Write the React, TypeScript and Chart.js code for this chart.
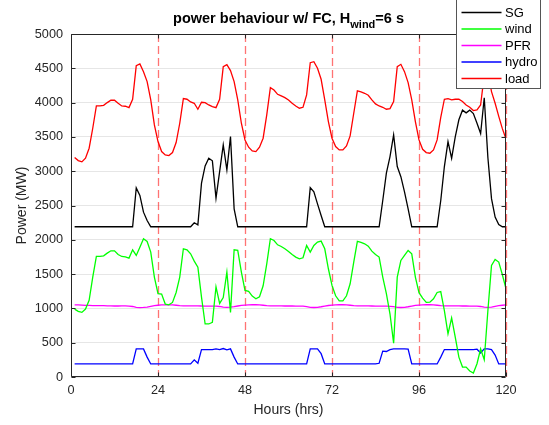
import React, { useEffect, useRef } from "react";
import { Chart, registerables } from "chart.js";

Chart.register(...registerables);

const HOURS: number[] = Array.from({ length: 120 }, (_, i) => i + 1);
const X_TICKS = [0, 24, 48, 72, 96, 120];
const DAY_MARKS = [24, 48, 72, 96, 120];

const SG = [
  2190, 2190, 2190, 2190, 2190, 2190, 2190, 2190, 2190, 2190, 2190, 2190, 2190, 2190, 2190, 2190, 2190,
  2757, 2646, 2403, 2282,
  2190, 2190, 2190, 2190, 2190, 2190, 2190, 2190, 2190, 2190, 2190, 2190,
  2248, 2218, 2825, 3078, 3189, 3151, 2607, 2995, 3384, 3020, 3505, 2451,
  2190, 2190, 2190, 2190, 2190, 2190, 2190, 2190, 2190, 2190, 2190, 2190, 2190, 2190, 2190, 2190, 2190, 2190, 2190, 2190,
  2760, 2700, 2524, 2354,
  2190, 2190, 2190, 2190, 2190, 2190, 2190, 2190, 2190, 2190, 2190, 2190, 2190, 2190, 2190, 2190,
  2573, 2971, 3214, 3529, 3068, 2920, 2700, 2450,
  2190, 2190, 2190, 2190, 2190, 2190, 2190, 2190,
  2573, 3068, 3432, 3189, 3500, 3750, 3890, 3850, 3890, 3840, 3700, 3550, 4070, 3200, 2600, 2330, 2223, 2190, 2190,
];

const WIND = [
  990, 957, 942, 990, 1117, 1456, 1757, 1757, 1767, 1806, 1840, 1840, 1786, 1757, 1752, 1733, 1854, 1772, 1893, 2015,
  1976, 1820, 1456, 1214, 1208, 1063, 1053, 1087, 1232, 1456, 1869, 1854, 1796, 1689, 1602, 1165, 773, 773, 797, 1314,
  1072, 1159, 1529, 942, 1854, 1845, 1529, 1262, 1250, 1180, 1140, 1170, 1330, 1650, 2015, 1990, 1927, 1903, 1869, 1830,
  1786, 1748, 1723, 1738, 1917, 1820, 1917, 1966, 1981, 1869, 1578, 1335, 1184, 1111, 1111, 1184, 1359, 1675, 1976, 1961,
  1942, 1908, 1835, 1786, 1748, 1456, 1214, 918, 493, 1456, 1699, 1772, 1845, 1796, 1456, 1230, 1150, 1087, 1090, 1140,
  1232, 1246, 966, 628, 860, 580, 290, 145, 145, 87, 58, 193, 411, 251, 966, 1626, 1714, 1675, 1490, 1286,
];

const PFR = [
  1050, 1050, 1048, 1045, 1043, 1040, 1040, 1040,
  1040, 1038, 1036, 1035, 1035, 1036, 1036, 1034,
  1028, 1015, 1012, 1015, 1020, 1030, 1040, 1046,
  1050, 1052, 1052, 1050, 1046, 1040, 1036, 1036,
  1036, 1036, 1036, 1035, 1034, 1033, 1033, 1032,
  1028, 1018, 1015, 1018, 1025, 1035, 1043, 1048,
  1052, 1053, 1053, 1050, 1046, 1040, 1036, 1036,
  1036, 1036, 1035, 1035, 1035, 1034, 1034, 1032,
  1026, 1015, 1013, 1016, 1024, 1034, 1042, 1048,
  1052, 1053, 1053, 1050, 1046, 1040, 1036, 1036,
  1036, 1036, 1035, 1034, 1034, 1033, 1032, 1030,
  1025, 1015, 1013, 1016, 1024, 1034, 1043, 1049,
  1052, 1053, 1053, 1050, 1046, 1040, 1036, 1036,
  1036, 1036, 1036, 1035, 1035, 1034, 1033, 1032,
  1028, 1018, 1015, 1020, 1030, 1040, 1046, 1050,
];

const HYDRO = [
  190, 190, 190, 190, 190, 190, 190, 190, 190, 190, 190, 190, 190, 190, 190, 190, 190,
  410, 410, 410, 290,
  190, 190, 190, 190, 190, 190, 190, 190, 190, 190, 190, 190,
  250, 200, 400, 400, 400, 400, 410, 400, 415, 395, 410, 290,
  190, 190, 190, 190, 190, 190, 190, 190, 190, 190, 190, 190, 190, 190, 190, 190, 190, 190, 190, 190,
  410, 410, 410, 340,
  190, 190, 190, 190, 190, 190, 190, 190, 190, 190, 190, 190, 190, 190, 190,
  200, 377, 372, 400, 410, 410, 410, 410, 405,
  190, 190, 190, 190, 190, 190, 190, 190,
  290, 400, 400, 400, 400, 400, 400, 400, 400, 400, 405, 350, 410, 410, 400, 320, 190, 190, 190,
];

const LOAD = [
  3200, 3155, 3136, 3190, 3335, 3626, 3951, 3951, 3960, 4000, 4034, 4034, 3990, 3951, 3947, 3927, 4049, 4539, 4563, 4451,
  4306, 4039, 3675, 3432, 3286, 3238, 3228, 3272, 3418, 3699, 4058, 4049, 4010, 3990, 3903, 4005, 4000, 3966, 3942, 3927,
  4049, 4524, 4553, 4466, 4306, 4039, 3699, 3456, 3350, 3296, 3286, 3350, 3481, 3820, 4218, 4184, 4121, 4097, 4073, 4039,
  3990, 3951, 3918, 3932, 4112, 4582, 4597, 4500, 4340, 4039, 3723, 3481, 3359, 3311, 3311, 3369, 3515, 3845, 4170, 4155,
  4136, 4107, 4039, 3981, 3951, 3932, 3903, 3913, 4015, 4524, 4558, 4451, 4291, 4039, 3723, 3456, 3320, 3272, 3262, 3311,
  3456, 3786, 4049, 4058, 4039, 4049, 4049, 4015, 3966, 3932, 3884, 3893, 3966, 4400, 4450, 4160, 3990, 3800, 3620, 3470,
];

const SERIES_NAMES = ["SG", "wind", "PFR", "hydro", "load"];
const SERIES_COLORS = ["#000000", "#00ff00", "#ff00ff", "#0000ff", "#ff0000"];
const SERIES_VALUES = [SG, WIND, PFR, HYDRO, LOAD];

const FONT = "'Liberation Sans', Arial, Helvetica, sans-serif";
const AXIS_COLOR = "#262626";

const decorPlugin = {
  id: "decor",
  beforeDatasetsDraw(chart: any) {
    const { ctx, chartArea: a, scales } = chart;
    ctx.save();
    ctx.strokeStyle = "rgba(255,0,0,0.55)";
    ctx.lineWidth = 1.3;
    ctx.setLineDash([8, 4]);
    for (const d of DAY_MARKS) {
      const x = Math.round(scales.x.getPixelForValue(d)) + 0.5;
      ctx.beginPath();
      ctx.moveTo(x, a.top);
      ctx.lineTo(x, a.bottom);
      ctx.stroke();
    }
    ctx.restore();
  },
  afterDraw(chart: any) {
    const { ctx, chartArea: a, scales } = chart;
    ctx.save();
    ctx.setLineDash([]);
    ctx.lineWidth = 1;
    ctx.strokeStyle = AXIS_COLOR;
    const L = Math.round(a.left) + 0.5;
    const R = Math.round(a.right) - 0.5;
    const T = Math.round(a.top) + 0.5;
    const B = Math.round(a.bottom) - 0.5;
    ctx.beginPath();
    ctx.moveTo(L, T);
    ctx.lineTo(R, T);
    ctx.lineTo(R, B);
    ctx.lineTo(L, B);
    ctx.closePath();
    ctx.stroke();
    ctx.beginPath();
    for (let v = 0; v <= 5000; v += 500) {
      const y = Math.round(scales.y.getPixelForValue(v)) + 0.5;
      ctx.moveTo(L, y);
      ctx.lineTo(L + 4, y);
      ctx.moveTo(R, y);
      ctx.lineTo(R - 4, y);
    }
    for (const t of X_TICKS) {
      const x = Math.round(scales.x.getPixelForValue(t)) + 0.5;
      ctx.moveTo(x, B);
      ctx.lineTo(x, B - 4);
      ctx.moveTo(x, T);
      ctx.lineTo(x, T + 4);
    }
    ctx.stroke();

    ctx.fillStyle = AXIS_COLOR;
    ctx.font = `14px ${FONT}`;
    ctx.textAlign = "center";
    ctx.textBaseline = "middle";
    ctx.fillText("Hours (hrs)", (a.left + a.right) / 2, 410);
    ctx.save();
    ctx.translate(22, (a.top + a.bottom) / 2);
    ctx.rotate(-Math.PI / 2);
    ctx.fillText("Power (MW)", 0, 0);
    ctx.restore();

    ctx.fillStyle = "#000000";
    ctx.textAlign = "left";
    ctx.textBaseline = "alphabetic";
    const big = `bold 14.5px ${FONT}`;
    const small = `bold 11px ${FONT}`;
    const p1 = "power behaviour w/ FC, H";
    const p2 = "wind";
    const p3 = "=6 s";
    ctx.font = big;
    const w1 = ctx.measureText(p1).width;
    const w3 = ctx.measureText(p3).width;
    ctx.font = small;
    const w2 = ctx.measureText(p2).width;
    let x0 = (a.left + a.right) / 2 - (w1 + w2 + w3) / 2;
    const base = 23;
    ctx.font = big;
    ctx.fillText(p1, x0, base);
    x0 += w1;
    ctx.font = small;
    ctx.fillText(p2, x0, base + 5);
    x0 += w2;
    ctx.font = big;
    ctx.fillText(p3, x0, base);

    const lx0 = 456.5, lx1 = 540.5, ly0 = -4, ly1 = 88.5;
    ctx.fillStyle = "#ffffff";
    ctx.fillRect(lx0, ly0, lx1 - lx0, ly1 - ly0);
    ctx.strokeStyle = "#555555";
    ctx.lineWidth = 1;
    ctx.strokeRect(lx0, ly0, lx1 - lx0, ly1 - ly0);
    const rows = [12.5, 29, 45.5, 62, 78.5];
    ctx.font = `13px ${FONT}`;
    ctx.textBaseline = "middle";
    ctx.textAlign = "left";
    SERIES_NAMES.forEach((name, i) => {
      ctx.strokeStyle = SERIES_COLORS[i];
      ctx.lineWidth = 1.3;
      ctx.beginPath();
      ctx.moveTo(461.5, rows[i]);
      ctx.lineTo(501.5, rows[i]);
      ctx.stroke();
      ctx.fillStyle = "#000000";
      ctx.fillText(name, 505, rows[i] + 0.5);
    });
    ctx.restore();
  },
};

export default function App() {
  const ref = useRef<HTMLCanvasElement | null>(null);
  useEffect(() => {
    document.body.style.margin = "0";
    const canvas = ref.current;
    if (!canvas) return;
    const chart = new Chart(canvas, {
      type: "line",
      data: {
        datasets: SERIES_VALUES.map((vals, i) => ({
          label: SERIES_NAMES[i],
          data: HOURS.map((h, j) => ({ x: h, y: vals[j] })),
          borderColor: SERIES_COLORS[i],
          backgroundColor: SERIES_COLORS[i],
          borderWidth: 1.3,
          pointRadius: 0,
          tension: 0,
          fill: false,
        })),
      },
      options: {
        responsive: false,
        animation: false,
        devicePixelRatio: 1,
        layout: { padding: { top: 34, right: 43, left: 0, bottom: 0 } },
        plugins: {
          legend: { display: false },
          title: { display: false },
          tooltip: { enabled: false },
        },
        scales: {
          x: {
            type: "linear",
            min: 0,
            max: 120,
            afterBuildTicks: (s: any) => {
              s.ticks = X_TICKS.map((v) => ({ value: v }));
            },
            afterFit: (s: any) => {
              s.height = 48;
            },
            ticks: {
              color: AXIS_COLOR,
              font: { family: FONT, size: 12.7 },
              padding: 6,
              maxRotation: 0,
              autoSkip: false,
              callback: (v: any) => String(v),
            },
            grid: { display: false, drawTicks: false },
            border: { display: false },
          },
          y: {
            type: "linear",
            min: 0,
            max: 5000,
            afterFit: (s: any) => {
              s.width = 71;
            },
            ticks: {
              stepSize: 500,
              color: AXIS_COLOR,
              font: { family: FONT, size: 12.7 },
              padding: 8,
              callback: (v: any) => String(v),
            },
            grid: { color: "#e6e6e6", drawTicks: false, lineWidth: 1 },
            border: { display: false },
          },
        },
      },
      plugins: [decorPlugin],
    });
    return () => chart.destroy();
  }, []);
  return <canvas ref={ref} width={549} height={425} style={{ display: "block" }} />;
}
